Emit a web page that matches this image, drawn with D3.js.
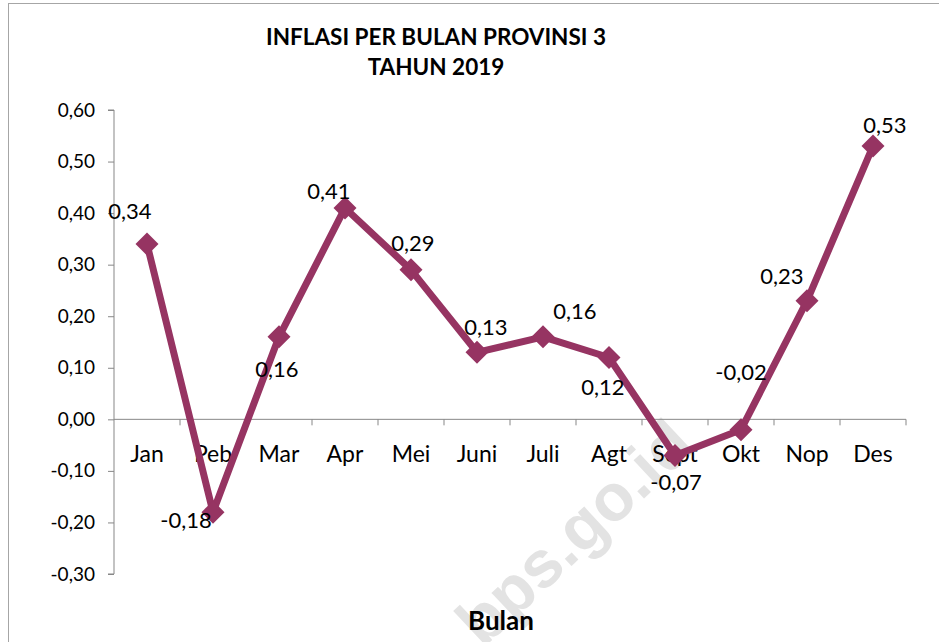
<!DOCTYPE html>
<html>
<head>
<meta charset="utf-8">
<script src="https://cdn.jsdelivr.net/npm/d3@7"></script>
<style>
  body { margin: 0; background: #fff; }
  svg { display: block; font-family: Lato, "Open Sans", sans-serif; }
</style>
</head>
<body>
<svg id="chart" width="939" height="642"></svg>
<script>
// data
const months = ['Jan', 'Peb', 'Mar', 'Apr', 'Mei', 'Juni', 'Juli', 'Agt', 'Sept', 'Okt', 'Nop', 'Des'];
const inflasi = [0.34, -0.18, 0.16, 0.41, 0.29, 0.13, 0.16, 0.12, -0.07, -0.02, 0.23, 0.53];
const yTicks = [-0.3, -0.2, -0.1, 0, 0.1, 0.2, 0.3, 0.4, 0.5, 0.6];
const titleLines = ['INFLASI PER BULAN PROVINSI 3', 'TAHUN 2019'];

// label nudges [dx, dy] from each point, the way they sit in the original
const labelNudge = [[-17, -25], [-27, 16], [-2, 40], [-16, -9], [2, -19], [9, -17],
  [32, -18], [-6, 38], [1, 35], [0, -50], [-25, -17], [12, -13]];

const svg = d3.select('#chart');
const lineColor = '#963462';
const fmt = (v) => d3.format('.2f')(v).replace('.', ',').replace('−', '-');

// outer frame
svg.append('rect')
  .attr('x', 8.5).attr('y', 3.5)
  .attr('width', 1000).attr('height', 700)
  .attr('fill', '#fff').attr('stroke', '#a6a6a6');

// watermark
svg.append('text')
  .attr('transform', 'translate(574,532) rotate(-43)')
  .attr('text-anchor', 'middle')
  .attr('dy', '0.35em')
  .attr('font-family', 'Liberation Sans, Arial, sans-serif')
  .attr('font-weight', 'bold')
  .attr('font-size', 66)
  .attr('fill', '#e3e3e3')
  .text('bps.go.id');

const x = d3.scaleBand().domain(months).range([114, 906]);
const y = d3.scaleLinear().domain([-0.3, 0.6]).range([574, 110]);

// y axis
const yAxis = svg.append('g')
  .attr('transform', 'translate(114,0)')
  .call(d3.axisLeft(y).tickValues(yTicks).tickFormat(fmt).tickSize(6).tickPadding(13));
yAxis.select('.domain').attr('stroke', '#878787').attr('d', `M-6,${y(0.6)}H0V${y(-0.3)}H-6`);
yAxis.selectAll('.tick line').attr('stroke', '#878787');
yAxis.selectAll('.tick text')
  .attr('font-size', 19).attr('fill', '#000').attr('font-family', 'Lato, sans-serif');

// x axis at zero, ticks on band edges
const xAxis = svg.append('g').attr('transform', `translate(0,${y(0)})`);
xAxis.append('line')
  .attr('x1', 114).attr('x2', 906)
  .attr('stroke', '#878787');
xAxis.selectAll('line.tk')
  .data(months.map((m) => x(m)).concat([906]).slice(1))
  .enter().append('line')
  .attr('class', 'tk')
  .attr('x1', (d) => d).attr('x2', (d) => d)
  .attr('y1', 0).attr('y2', 6)
  .attr('stroke', '#878787');
xAxis.selectAll('text')
  .data(months)
  .enter().append('text')
  .attr('x', (d) => x(d) + x.bandwidth() / 2)
  .attr('y', 43)
  .attr('text-anchor', 'middle')
  .attr('font-size', 23)
  .text((d) => d);

// line + markers
const pts = months.map((m, i) => [x(m) + x.bandwidth() / 2, y(inflasi[i])]);
svg.append('path')
  .attr('d', d3.line()(pts))
  .attr('fill', 'none')
  .attr('stroke', lineColor)
  .attr('stroke-width', 7)
  .attr('stroke-linejoin', 'round');

svg.selectAll('path.mk')
  .data(pts)
  .enter().append('path')
  .attr('class', 'mk')
  .attr('transform', (d) => `translate(${d[0]},${d[1]})`)
  .attr('d', 'M0,-11.5L11.5,0L0,11.5L-11.5,0Z')
  .attr('fill', lineColor);

// data labels
svg.selectAll('text.lbl')
  .data(inflasi)
  .enter().append('text')
  .attr('class', 'lbl')
  .attr('x', (d, i) => pts[i][0] + labelNudge[i][0])
  .attr('y', (d, i) => pts[i][1] + labelNudge[i][1])
  .attr('text-anchor', 'middle')
  .attr('font-size', 22)
  .text(fmt);

// titles
svg.append('text')
  .attr('x', 436).attr('y', 45)
  .attr('text-anchor', 'middle')
  .attr('font-size', 22.5).attr('font-weight', 'bold')
  .text(titleLines[0]);
svg.append('text')
  .attr('x', 436).attr('y', 75)
  .attr('text-anchor', 'middle')
  .attr('font-size', 22.5).attr('font-weight', 'bold')
  .text(titleLines[1]);

svg.append('text')
  .attr('x', 501).attr('y', 630)
  .attr('text-anchor', 'middle')
  .attr('font-size', 26).attr('font-weight', 'bold')
  .text('Bulan');
</script>
</body>
</html>
